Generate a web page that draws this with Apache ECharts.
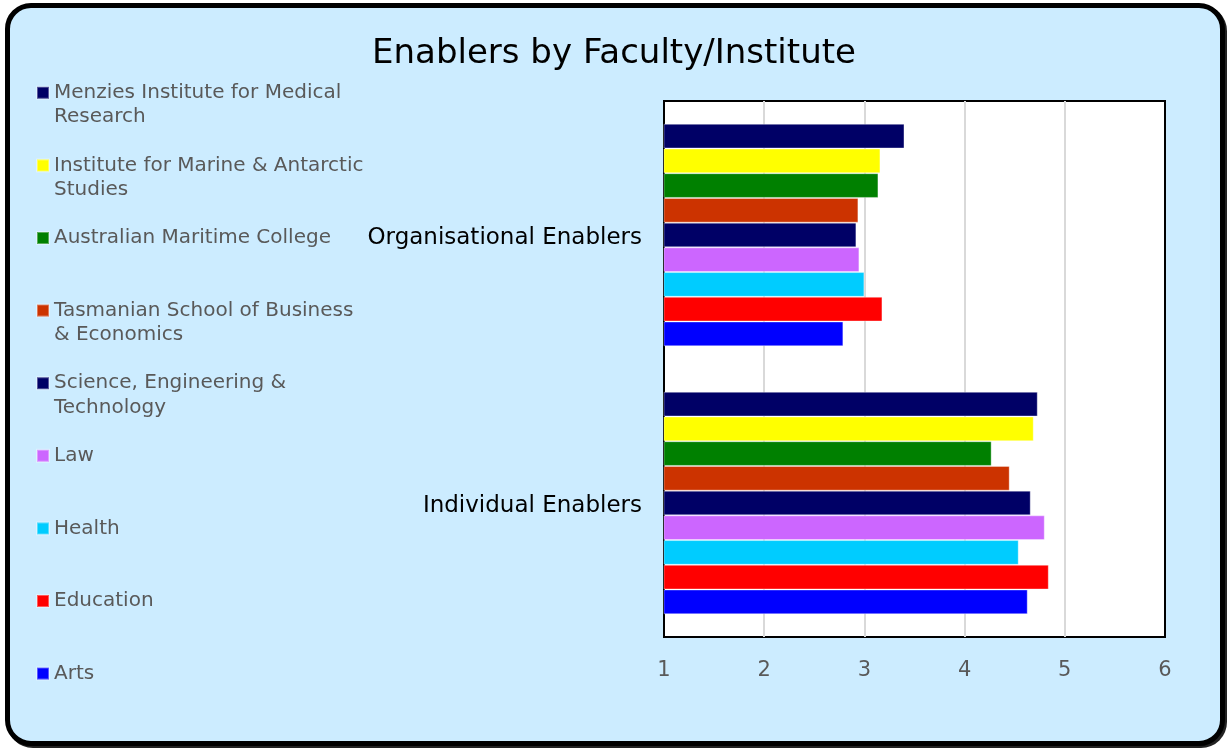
<!DOCTYPE html>
<html>
<head>
<meta charset="utf-8">
<script src="https://cdn.jsdelivr.net/npm/echarts@6/dist/echarts.min.js"></script>
<style>
  html, body { margin: 0; padding: 0; background: #fff; }
  #frame {
    position: absolute; left: 5px; top: 3px; width: 1220px; height: 743px;
    box-sizing: border-box; border: 5px solid #000; border-radius: 26px;
    background: #CCECFF; box-shadow: 2px 2px 0 #222;
  }
  #main { position: absolute; left: 0; top: 0; width: 1228px; height: 749px; }
</style>
</head>
<body>
<div id="frame"></div>
<div id="main"></div>
<script>
// categories, bottom to top like the axis draws them
const categories = ['Individual Enablers', 'Organisational Enablers'];

// [Individual, Organisational]
const menzies = [4.73, 3.40];
const imas = [4.69, 3.16];
const amc = [4.27, 3.14];
const tsbe = [4.45, 2.94];
const scienceEng = [4.66, 2.92];
const law = [4.80, 2.95];
const health = [4.54, 3.00];
const education = [4.84, 3.18];
const arts = [4.63, 2.79];

const xTicks = [1, 2, 3, 4, 5, 6];

const seriesNames = [
  'Menzies Institute for Medical Research',
  'Institute for Marine & Antarctic Studies',
  'Australian Maritime College',
  'Tasmanian School of Business & Economics',
  'Science, Engineering & Technology',
  'Law',
  'Health',
  'Education',
  'Arts',
];
const seriesValues = [menzies, imas, amc, tsbe, scienceEng, law, health, education, arts];
const colors = ['#000066', '#FFFF00', '#008000', '#CC3300', '#000066', '#CC66FF', '#00CCFF', '#FF0000', '#0000FF'];

// how the legend wraps the long names
const legendLines = {
  'Menzies Institute for Medical Research': ['Menzies Institute for Medical', 'Research'],
  'Institute for Marine & Antarctic Studies': ['Institute for Marine & Antarctic', 'Studies'],
  'Tasmanian School of Business & Economics': ['Tasmanian School of Business', '& Economics'],
  'Science, Engineering & Technology': ['Science, Engineering &', 'Technology'],
};

const font = 'DejaVu Sans';
const myChart = echarts.init(document.getElementById('main'), null, { renderer: 'canvas' });

const option = {
  color: colors,
  title: {
    text: 'Enablers by Faculty/Institute',
    left: 'center',
    top: 32,
    textStyle: { fontFamily: font, fontWeight: 'normal', fontSize: 34, color: '#000' },
  },
  legend: {
    orient: 'vertical',
    left: 36,
    top: 56.5,
    padding: 0,
    itemGap: 0,
    itemWidth: 12,
    itemHeight: 12,
    icon: 'rect',
    data: seriesNames,
    // every item is three lines high so the square sits beside the first line
    formatter(name) {
      const lines = legendLines[name] || [name, ' '];
      return ' \n' + lines.join('\n');
    },
    textStyle: { fontFamily: font, fontSize: 20, color: '#595959', lineHeight: 24.2 },
  },
  grid: {
    left: 664,
    right: 63,
    top: 101,
    bottom: 112,
    show: true,
    backgroundColor: '#fff',
    borderColor: '#000',
    borderWidth: 2,
    containLabel: false,
  },
  xAxis: {
    type: 'value',
    min: 1,
    max: 6,
    interval: 1,
    axisLine: { show: false },
    axisTick: { show: false },
    axisLabel: {
      margin: 23,
      fontFamily: font,
      fontSize: 21,
      color: '#595959',
      formatter: (v) => (xTicks.includes(v) ? String(v) : ''),
    },
    splitLine: { showMinLine: false, showMaxLine: false, lineStyle: { color: '#d9d9d9', width: 2 } },
  },
  yAxis: {
    type: 'category',
    data: categories,
    axisLine: { show: false },
    axisTick: { show: false },
    axisLabel: {
      margin: 22,
      formatter: (v) => '{c|' + v + '}',
      rich: {
        c: { fontFamily: font, fontSize: 23, color: '#000', padding: [6, 0, 0, 0] },
      },
    },
  },
  series: seriesNames.map((name, i) => ({
    name: name,
    type: 'bar',
    data: seriesValues[i],
    barGap: '0%',
    barCategoryGap: '17%',
    itemStyle: { borderColor: 'rgba(255,255,255,0.35)', borderWidth: 1 },
  })),
};

myChart.setOption(option);
</script>
</body>
</html>
